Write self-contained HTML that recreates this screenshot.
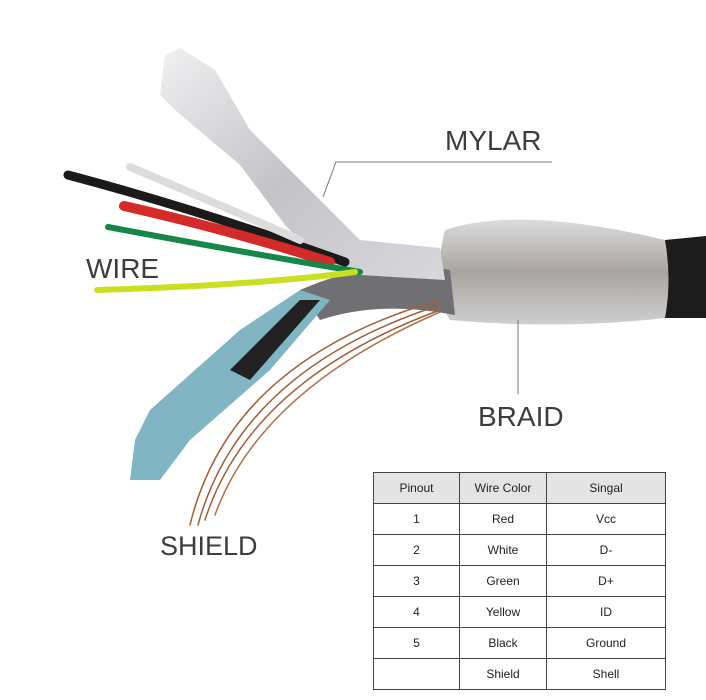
<!DOCTYPE html>
<html><head><style>
body{margin:0;width:706px;height:700px;background:#fff;position:relative;overflow:hidden;font-family:"Liberation Sans",sans-serif}
.lbl{position:absolute;color:#3d3d3d;font-size:28px;line-height:1}
table{position:absolute;left:373px;top:472px;border-collapse:collapse;font-size:12px;color:#222}
td{border:1.5px solid #444;text-align:center;padding:0;height:30px}
tr.h td{background:#e4e4e4}
</style></head><body>
<svg width="706" height="700" style="position:absolute;left:0;top:0">
<defs>
<linearGradient id="foil" x1="0" y1="0" x2="1" y2="1"><stop offset="0" stop-color="#f0f0f2"/><stop offset=".5" stop-color="#c4c4c8"/><stop offset="1" stop-color="#d8d8dc"/></linearGradient>
<linearGradient id="braid" x1="0" y1="0" x2="0" y2="1"><stop offset="0" stop-color="#dcdcdc"/><stop offset=".5" stop-color="#aaa4a0"/><stop offset="1" stop-color="#cfcfcf"/></linearGradient>
</defs>
<path d="M665,240 L706,236 L706,318 L665,318 Q655,280 665,240Z" fill="#1c1c1c"/>
<path d="M445,230 Q520,205 665,240 Q672,280 665,318 Q560,330 450,320 Q430,290 445,230Z" fill="url(#braid)"/>
<path d="M300,290 Q380,255 450,270 L455,315 Q380,300 320,320Z" fill="#707074"/>
<path d="M165,55 L180,48 L215,70 L250,130 L290,170 L335,215 L360,240 L440,248 L445,280 L360,275 L320,262 L285,225 L240,165 L175,110 L160,95Z" fill="url(#foil)"/>
<path d="M130,480 L135,440 L150,410 L240,330 L300,290 L330,300 L270,370 L190,440 L160,480Z" fill="#82b5c4"/>
<path d="M230,370 L300,300 L320,300 L250,380Z" fill="#222"/>
<g fill="none" stroke-linecap="round">
<path d="M68,175 Q200,210 345,262" stroke="#1a1a1a" stroke-width="9"/>
<path d="M130,167 Q220,205 300,240" stroke="#dcdcdc" stroke-width="8"/>
<path d="M124,206 Q230,230 330,262" stroke="#d42a2a" stroke-width="10"/>
<path d="M108,227 Q230,250 360,272" stroke="#17864a" stroke-width="6"/>
<path d="M97,290 Q260,285 355,272" stroke="#c9e021" stroke-width="6"/>
<path d="M190,525 Q230,360 440,300" stroke="#a0603c" stroke-width="1.5"/>
<path d="M198,525 Q240,370 440,305" stroke="#a0603c" stroke-width="1.5"/>
<path d="M205,520 Q250,380 440,310" stroke="#a0603c" stroke-width="1.5"/>
<path d="M215,515 Q260,390 440,312" stroke="#b07048" stroke-width="1.5"/>
</g>
<g stroke="#777" stroke-width="1" fill="none">
<polyline points="552,162 336,162 323,197"/>
<line x1="518" y1="320" x2="518" y2="394"/>
</g>
</svg>
<div class="lbl" style="left:445px;top:127px">MYLAR</div>
<div class="lbl" style="left:86px;top:255px">WIRE</div>
<div class="lbl" style="left:478px;top:403px">BRAID</div>
<div class="lbl" style="left:160px;top:533px;font-size:27px">SHIELD</div>
<table>
<tr class="h"><td style="width:85px">Pinout</td><td style="width:86px">Wire Color</td><td style="width:118px">Singal</td></tr>
<tr><td>1</td><td>Red</td><td>Vcc</td></tr>
<tr><td>2</td><td>White</td><td>D-</td></tr>
<tr><td>3</td><td>Green</td><td>D+</td></tr>
<tr><td>4</td><td>Yellow</td><td>ID</td></tr>
<tr><td>5</td><td>Black</td><td>Ground</td></tr>
<tr><td></td><td>Shield</td><td>Shell</td></tr>
</table>
</body></html>
